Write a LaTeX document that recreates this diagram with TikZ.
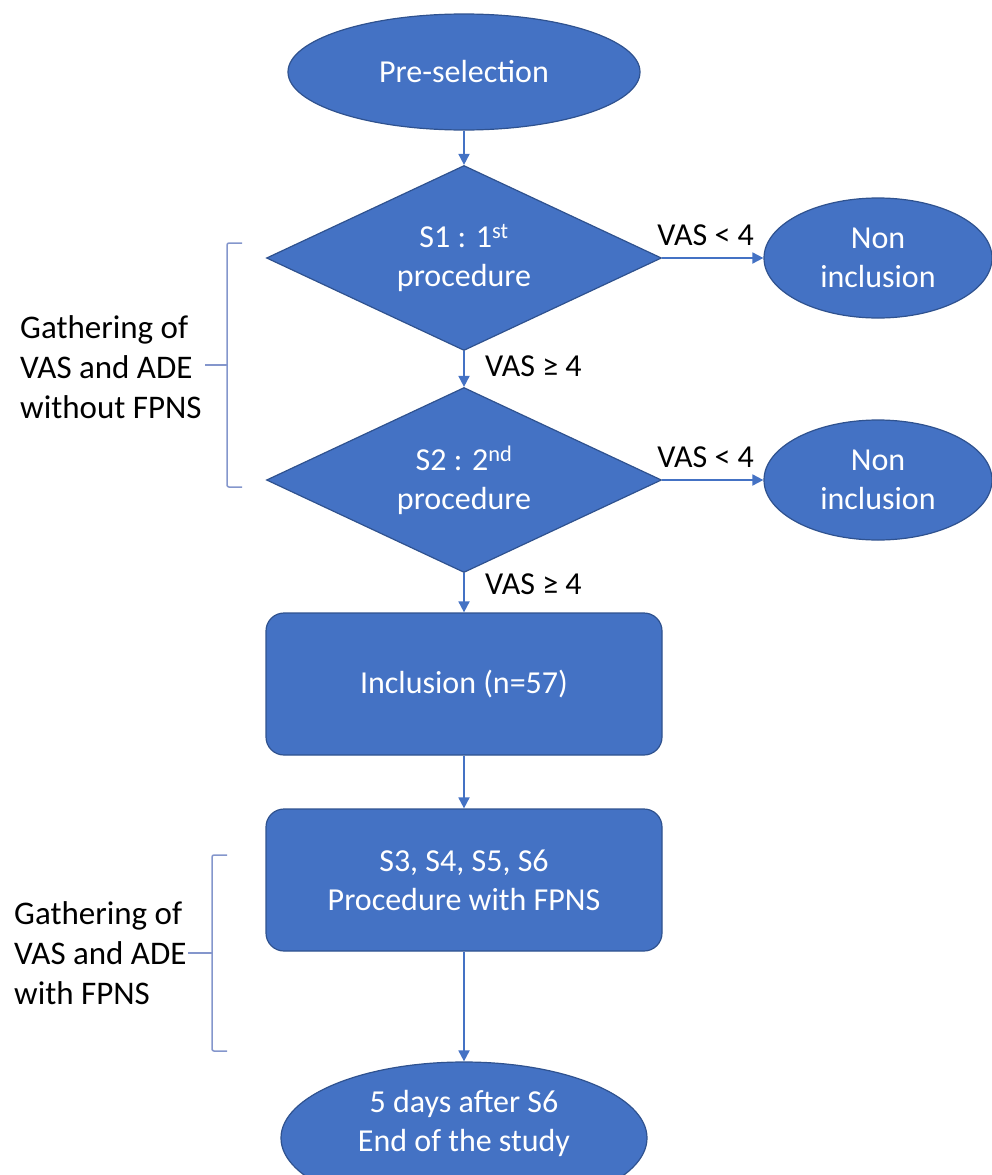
\documentclass[tikz,border=0pt]{standalone}
\usepackage{fontspec}
\setmainfont{Carlito}
\usetikzlibrary{shapes.geometric,arrows.meta}
\definecolor{fillblue}{HTML}{4472C4}
\definecolor{edgeblue}{HTML}{2F528F}
\definecolor{brk}{HTML}{8496CC}
\begin{document}
\begin{tikzpicture}[x=1pt,y=-1pt,
  every node/.style={font=\fontsize{32}{39}\selectfont},
  shp/.style={fill=fillblue, draw=edgeblue, line width=1.2pt, text=white, inner sep=0pt, align=center},
  term/.style={shp, ellipse},
  dec/.style={shp, diamond, minimum width=395pt, minimum height=185pt, aspect=2.135},
  proc/.style={shp, rectangle, rounded corners=18pt, minimum width=396pt, minimum height=142pt},
  arr/.style={draw=fillblue, line width=1.8pt, -{Triangle[width=11pt,length=11pt]}},
  lbl/.style={text=black, inner sep=0pt},
  side/.style={text=black, inner sep=0pt, align=left, font=\fontsize{33}{40}\selectfont},
  brace/.style={draw=brk, line width=1.5pt, rounded corners=2pt}]
\useasboundingbox (0,0) rectangle (991,1175);

% nodes
\node[term, minimum width=352pt, minimum height=116pt] (pre) at (464,72) {Pre-selection};
\node[dec] (s1) at (464,258) {S1 : 1\textsuperscript{st}\\procedure};
\node[dec] (s2) at (464,480) {S2 : 2\textsuperscript{nd}\\procedure};
\node[term, minimum width=228pt, minimum height=120pt] (ni1) at (878,258) {Non\\inclusion};
\node[term, minimum width=228pt, minimum height=120pt] (ni2) at (878,480) {Non\\inclusion};
\node[proc] (inc) at (464,684) {Inclusion (n=57)};
\node[proc] (s36) at (464,880) {S3, S4, S5, S6\\Procedure with FPNS};
\node[term, minimum width=366pt, minimum height=152pt] (end) at (464,1138) {};
\node[lbl, text=white, align=center] (endtxt) at (464,1123) {5 days after S6\\End of the study};

% connectors
\draw[arr] (pre.south) -- (s1.north);
\draw[arr] (s1.south) -- (s2.north);
\draw[arr] (s2.south) -- (inc.north);
\draw[arr] (inc.south) -- (s36.north);
\draw[arr] (s36.south) -- (end.north);
\draw[arr] (s1.east) -- (ni1.west) node[lbl, pos=0.43, above=11pt] {VAS < 4};
\draw[arr] (s2.east) -- (ni2.west) node[lbl, pos=0.43, above=11pt] {VAS < 4};
\path (s1.south) ++(21,15) node[lbl, anchor=west] (l1) {VAS ≥ 4};
\path (s2.south) ++(21,11) node[lbl, anchor=west] (l2) {VAS ≥ 4};

% side brackets
\node[side, anchor=west] (g1) at (20,367) {Gathering of\\VAS and ADE\\without FPNS};
\coordinate (b1) at (227,365);
\draw[brace] (242,243) -- (227,243) -- (227,487) -- (242,487);
\draw[brk, line width=1.5pt] (205,365) -- (b1);

\node[side, anchor=west] (g2) at (14,953) {Gathering of\\VAS and ADE\\with FPNS};
\coordinate (b2) at (212,953);
\draw[brace] (227,855) -- (212,855) -- (212,1051) -- (227,1051);
\draw[brk, line width=1.5pt] (188,953) -- (b2);
\end{tikzpicture}
\end{document}
